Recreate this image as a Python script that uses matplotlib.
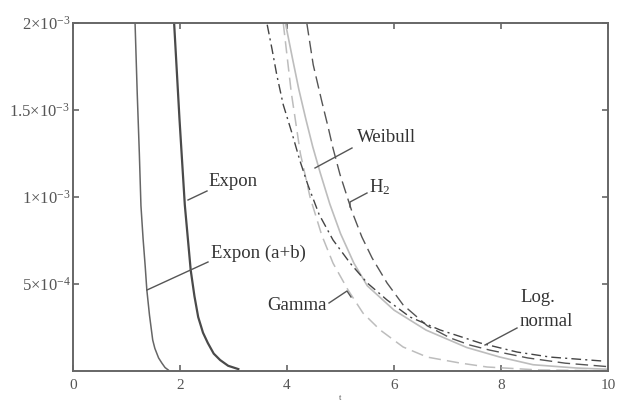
import matplotlib
matplotlib.use("Agg")
import matplotlib.pyplot as plt

plt.rcParams["font.family"] = ["Liberation Serif", "DejaVu Serif"]
plt.rcParams["mathtext.fontset"] = "custom"
plt.rcParams["mathtext.rm"] = "Liberation Serif"
plt.rcParams["mathtext.it"] = "Liberation Serif:italic"

# Valores (y em unidades de 1e-3)
expon_ab_x = [1.16, 1.20, 1.24, 1.27, 1.31, 1.35, 1.38, 1.43, 1.49, 1.53, 1.60, 1.66, 1.72, 1.78]
expon_ab_y = [2.0, 1.6, 1.25, 0.95, 0.76, 0.60, 0.466, 0.32, 0.178, 0.13, 0.075, 0.046, 0.02, 0.006]

expon_x = [1.89, 1.99, 2.09, 2.15, 2.20, 2.27, 2.34, 2.43, 2.52, 2.63, 2.75, 2.90, 3.09]
expon_y = [2.0, 1.45, 0.954, 0.75, 0.58, 0.43, 0.31, 0.22, 0.161, 0.10, 0.063, 0.03, 0.011]

gamma_x = [3.93, 4.08, 4.25, 4.43, 4.65, 4.86, 5.14, 5.42, 5.74, 6.17, 6.62, 7.23, 7.74, 8.7, 10.0]
gamma_y = [2.0, 1.6, 1.25, 1.0, 0.78, 0.62, 0.466, 0.333, 0.236, 0.138, 0.080, 0.046, 0.023, 0.006, 0.001]

weibull_x = [3.97, 4.10, 4.22, 4.35, 4.48, 4.62, 4.80, 5.0, 5.25, 5.5, 6.0, 6.6, 7.36, 7.98, 8.6, 9.42, 10.0]
weibull_y = [2.0, 1.80, 1.62, 1.45, 1.29, 1.14, 0.96, 0.79, 0.62, 0.49, 0.35, 0.235, 0.135, 0.08, 0.036, 0.017, 0.01]

h2_x = [4.37, 4.49, 4.65, 4.77, 4.86, 4.99, 5.21, 5.40, 5.59, 5.87, 6.17, 6.62, 7.05, 7.42, 7.79, 8.5, 9.2, 10.0]
h2_y = [2.0, 1.76, 1.55, 1.40, 1.28, 1.13, 0.92, 0.77, 0.65, 0.506, 0.38, 0.26, 0.19, 0.149, 0.12, 0.075, 0.045, 0.025]

lognormal_x = [3.63, 3.72, 3.81, 3.93, 4.09, 4.24, 4.39, 4.6, 4.86, 5.18, 5.50, 5.87, 6.30, 6.86, 7.61, 8.30, 8.92, 9.91]
lognormal_y = [1.99, 1.85, 1.70, 1.53, 1.37, 1.21, 1.07, 0.9, 0.753, 0.62, 0.506, 0.408, 0.31, 0.236, 0.161, 0.109, 0.08, 0.057]

x_ticks = [0, 2, 4, 6, 8, 10]
y_ticks = [0.0005, 0.001, 0.0015, 0.002]
y_tick_labels = [r"$5{\times}10^{-4}$", r"$1{\times}10^{-3}$",
                 r"$1.5{\times}10^{-3}$", r"$2{\times}10^{-3}$"]

fig = plt.figure(figsize=(6.2, 4.03), dpi=100)
ax = fig.add_axes([73 / 620, 32 / 403, 535 / 620, 348 / 403])

def s(vals):
    return [v * 1e-3 for v in vals]

dark = "#555555"
light = "#bdbdbd"

ax.plot(expon_ab_x, s(expon_ab_y), color="#666666", lw=1.1)
ax.plot(expon_x, s(expon_y), color="#4a4a4a", lw=1.6)
ax.plot(gamma_x, s(gamma_y), color=light, lw=1.1, dashes=(8, 4))
ax.plot(weibull_x, s(weibull_y), color=light, lw=1.2)
ax.plot(h2_x, s(h2_y), color=dark, lw=1.0, dashes=(9, 4))
ax.plot(lognormal_x, s(lognormal_y), color="#444444", lw=1.0, dashes=(7, 3, 1.5, 3))

ax.set_xlim(0, 10)
ax.set_ylim(0, 0.002)
ax.set_xticks(x_ticks)
ax.set_xticklabels([str(v) for v in x_ticks])
ax.set_yticks(y_ticks)
ax.set_yticklabels(y_tick_labels)
ax.tick_params(direction="in", length=4, width=1.2, color="#666666",
               labelcolor="#555555", top=True, right=True)
ax.tick_params(axis="x", pad=6, labelsize=11)
ax.tick_params(axis="y", pad=2, labelsize=12)
for sp in ax.spines.values():
    sp.set_color("#666666")
    sp.set_linewidth(1.4)
ax.set_xlabel("t", fontsize=6, color="#555555", labelpad=1)

# Etiquetas com linhas de chamada
lab = dict(fontsize=13.5, color="#333333", va="center", ha="left")
lc = dict(color="#555555", lw=1.0)

def px(xp, yp):
    return ((xp - 73) / 53.5, (371 - yp) / 174 * 1e-3)

ax.text(*px(208, 182), "Expon", **lab)
ax.plot(*zip(px(207, 191), px(188, 200)), **lc)

ax.text(*px(211, 253), "Expon (a+b)", **lab)
ax.plot(*zip(px(208, 262), px(147, 290)), **lc)

ax.text(*px(267, 305), "Gamma", **lab)
ax.plot(*zip(px(329, 303), px(347, 291), px(351, 297)), **lc)

ax.text(*px(357, 138), "Weibull", **lab)
ax.plot(*zip(px(352, 148), px(315, 168)), **lc)

ax.text(*px(369, 187), r"H$_2$", **lab)
ax.plot(*zip(px(367, 193), px(350, 202), px(350, 207)), **lc)

ax.text(*px(520, 298), "Log.", **lab)
ax.text(*px(520, 321), "normal", **lab)
ax.plot(*zip(px(517, 328), px(485, 345)), **lc)

fig.savefig("out.png", dpi=100)
